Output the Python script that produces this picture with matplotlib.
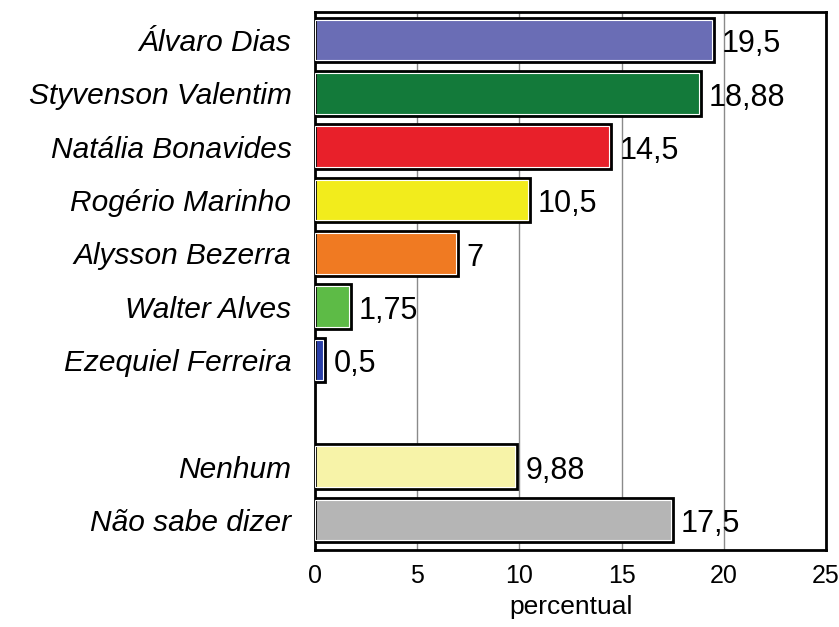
import matplotlib.pyplot as plt

plt.rcParams['font.family'] = ['Liberation Sans', 'DejaVu Sans']

candidates = ["Álvaro Dias", "Styvenson Valentim", "Natália Bonavides", "Rogério Marinho",
              "Alysson Bezerra", "Walter Alves", "Ezequiel Ferreira", "", "Nenhum", "Não sabe dizer"]
values = [19.5, 18.88, 14.5, 10.5, 7, 1.75, 0.5, None, 9.88, 17.5]
labels = ["19,5", "18,88", "14,5", "10,5", "7", "1,75", "0,5", "", "9,88", "17,5"]
colors = ["#6A6DB5", "#137A3A", "#E8202A", "#F2EC1C", "#F07A22", "#5DBB46", "#2A3FA8",
          "white", "#F7F3A8", "#B5B5B5"]

fig = plt.figure(figsize=(8.39, 6.27), dpi=100)
ax = fig.add_axes([0.3755, 0.123, 0.609, 0.858])

pos = list(range(len(candidates)))
for i, (v, c, lab) in enumerate(zip(values, colors, labels)):
    if v is None:
        continue
    ax.barh(i, v, height=0.84, color=c, edgecolor="black", linewidth=2, zorder=3)
    # thin white inner line for the shaded look
    ax.barh(i, v - 0.12, height=0.76, left=0.02, color="none", edgecolor="white",
            linewidth=0.8, zorder=4)
    ax.text(v + 0.4, i + 0.08, lab, va="center", ha="left", fontsize=22, zorder=5)

ax.set_xlim(0, 25)
ax.set_ylim(9.56, -0.525)
ax.set_yticks(pos)
ax.set_yticklabels(candidates, fontsize=21.5, style="italic")
ax.set_xticks([0, 5, 10, 15, 20, 25])
ax.tick_params(axis="y", length=0, pad=17)
ax.tick_params(axis="x", length=0, labelsize=18, pad=10)
ax.set_xlabel("percentual", fontsize=19, labelpad=5)
ax.xaxis.grid(True, color="#8a8a8a", linewidth=1, zorder=0)
for s in ax.spines.values():
    s.set_linewidth(2)

fig.savefig("out.png", dpi=100)
